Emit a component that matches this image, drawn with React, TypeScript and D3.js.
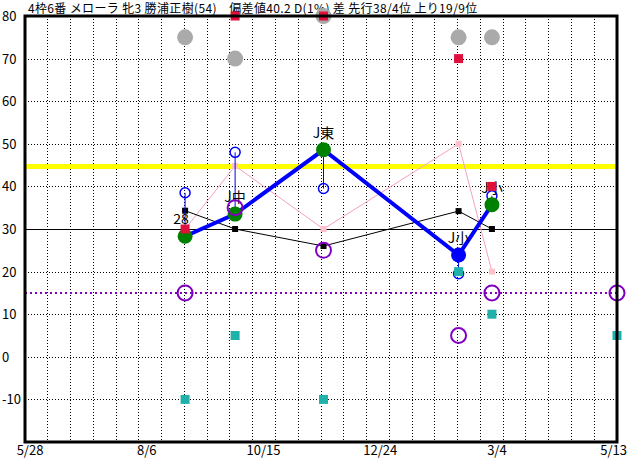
import React, { useEffect, useRef } from "react";
import * as d3 from "d3";

const W = 632;
const H = 460;

const titleText = "4枠6番 メローラ 牝3 勝浦正樹(54)　偏差値40.2 D(1%) 差 先行38/4位 上り19/9位";

const xDomain = ["2018-05-25", "2019-05-15"];
const tickDates = ["2018-05-28", "2018-08-06", "2018-10-15", "2018-12-24", "2019-03-04", "2019-05-13"];
const yTicks = [-10, 0, 10, 20, 30, 40, 50, 60, 70, 80];

const raceDates = ["2018-08-29", "2018-09-28", "2018-11-20", "2019-02-09", "2019-03-01"];
const raceLabels = ["28", "J中", "J東", "J小", "J小"];
const mainValues = [28.3, 33.5, 48.6, 23.9, 35.7];
const highlight = [false, false, false, true, false];
const openCircleValues = [38.5, 48, 39.5, 19.5, 37.8];
const blackValues = [34.3, 30, 26, 34.2, 30];
const pinkValues = [30, 44.8, 30, 50, 20];
const redValues = [30, 80, 80, 70, 40];
const greyValues = [75, 70, 80, 75, 75];

const extraDates = ["2018-08-29", "2018-09-28", "2018-11-20", "2019-02-09", "2019-03-01", "2019-05-15"];
const tealValues = [-10, 5, -10, 20, 10, 5];
const purpleValues = [15, 35, 25, 5, 15, 15];

const yellowLevel = 44.7;
const purpleLevel = 15;
const solidLevel = 30;

export default function App() {
  const ref = useRef<SVGSVGElement>(null);

  useEffect(() => {
    const svg = d3.select(ref.current);
    svg.selectAll("*").remove();
    const parse = d3.timeParse("%Y-%m-%d");
    const fmt = d3.timeFormat("%-m/%-d");
    const L = 25, R = 617, T = 16, B = 442;
    const x = d3.scaleTime().domain(xDomain.map((s) => parse(s)!)).range([L, R]);
    const y = d3.scaleLinear().domain([-20, 80]).range([B, T]);
    const font = "'Noto Sans CJK JP', 'Noto Sans', sans-serif";

    svg.append("rect").attr("width", W).attr("height", H).attr("fill", "#fff");

    // title
    svg.append("text").attr("x", 28).attr("y", 13).attr("font-size", 12)
      .attr("letter-spacing", 0.35)
      .attr("font-family", font).attr("fill", "#000").text(titleText);

    const g = svg.append("g");
    // vertical grid
    const gx = d3.scaleLinear().domain([0, 26]).range([L, R]);
    d3.range(1, 26).forEach((i) => {
      g.append("line").attr("x1", gx(i)).attr("x2", gx(i)).attr("y1", T).attr("y2", B)
        .attr("stroke", "#000").attr("stroke-width", 1).attr("stroke-dasharray", "1,2")
        .attr("shape-rendering", "crispEdges");
    });
    // horizontal grid
    yTicks.forEach((v) => {
      if (v === 80) return;
      g.append("line").attr("x1", L).attr("x2", R).attr("y1", Math.round(y(v)) + 0.5).attr("y2", Math.round(y(v)) + 0.5)
        .attr("stroke", "#000").attr("stroke-width", 1)
        .attr("stroke-dasharray", v === solidLevel ? null : "1,2")
        .attr("shape-rendering", "crispEdges");
    });
    // y labels
    yTicks.forEach((v) => {
      svg.append("text").attr("x", 2).attr("y", y(v) + 5).attr("font-size", 13)
        .attr("font-family", font).attr("fill", "#000").text(String(v));
    });
    // x labels
    tickDates.forEach((s) => {
      const d = parse(s)!;
      svg.append("text").attr("x", x(d)).attr("y", 455).attr("text-anchor", "middle")
        .attr("font-size", 13).attr("font-family", font).attr("fill", "#000").text(fmt(d));
    });

    // yellow line
    g.append("line").attr("x1", L).attr("x2", R).attr("y1", y(yellowLevel)).attr("y2", y(yellowLevel))
      .attr("stroke", "#ffff00").attr("stroke-width", 5);
    // purple dotted
    g.append("line").attr("x1", L).attr("x2", R).attr("y1", y(purpleLevel)).attr("y2", y(purpleLevel))
      .attr("stroke", "#8000c0").attr("stroke-width", 2).attr("stroke-dasharray", "2,3");

    const rd = raceDates.map((s) => parse(s)!);
    const ed = extraDates.map((s) => parse(s)!);
    const line = d3.line<[Date, number]>().x((d) => x(d[0])).y((d) => y(d[1]));

    // pink
    const pinkData = rd.map((d, i) => [d, pinkValues[i]] as [Date, number]);
    g.append("path").attr("d", line(pinkData)!).attr("fill", "none").attr("stroke", "#f5a0c0").attr("stroke-width", 1);
    pinkData.forEach((p) => g.append("rect").attr("x", x(p[0]) - 3).attr("y", y(p[1]) - 3).attr("width", 6).attr("height", 6).attr("fill", "#ffc0cb"));

    // black
    const blackData = rd.map((d, i) => [d, blackValues[i]] as [Date, number]);
    g.append("path").attr("d", line(blackData)!).attr("fill", "none").attr("stroke", "#000").attr("stroke-width", 1);
    blackData.forEach((p) => g.append("rect").attr("x", x(p[0]) - 3).attr("y", y(p[1]) - 3).attr("width", 6).attr("height", 6).attr("fill", "#000"));

    // blue connectors and open circles
    rd.forEach((d, i) => {
      g.append("line").attr("x1", x(d)).attr("x2", x(d)).attr("y1", y(openCircleValues[i])).attr("y2", y(mainValues[i]))
        .attr("stroke", "#0000ff").attr("stroke-width", 1);
      g.append("circle").attr("cx", x(d)).attr("cy", y(openCircleValues[i])).attr("r", 5)
        .attr("fill", "none").attr("stroke", "#0000ff").attr("stroke-width", 1.5);
    });

    // main blue line
    const mainData = rd.map((d, i) => [d, mainValues[i]] as [Date, number]);
    g.append("path").attr("d", line(mainData)!).attr("fill", "none").attr("stroke", "#0000ff").attr("stroke-width", 4);
    mainData.forEach((p, i) => {
      g.append("circle").attr("cx", x(p[0])).attr("cy", y(p[1])).attr("r", 7.5)
        .attr("fill", highlight[i] ? "#0000ff" : "#008000");
    });

    // grey circles
    rd.forEach((d, i) => {
      g.append("circle").attr("cx", x(d)).attr("cy", y(greyValues[i])).attr("r", 8).attr("fill", "#aaaaaa");
    });

    // labels
    rd.forEach((d, i) => {
      g.append("text").attr("x", x(d) - (i === 0 ? 4 : 0)).attr("y", y(mainValues[i]) - 12).attr("text-anchor", "middle")
        .attr("font-size", 14).attr("font-family", font).attr("fill", "#000").text(raceLabels[i]);
    });

    // red squares
    rd.forEach((d, i) => {
      g.append("rect").attr("x", x(d) - 4.5).attr("y", y(redValues[i]) - 4.5).attr("width", 9).attr("height", 9).attr("fill", "#e0103c");
    });

    // teal squares
    ed.forEach((d, i) => {
      g.append("rect").attr("x", x(d) - 4.5).attr("y", y(tealValues[i]) - 4.5).attr("width", 9).attr("height", 9).attr("fill", "#20b2aa");
    });

    // purple circles
    ed.forEach((d, i) => {
      g.append("circle").attr("cx", x(d)).attr("cy", y(purpleValues[i])).attr("r", 7.5)
        .attr("fill", "none").attr("stroke", "#8000c0").attr("stroke-width", 2);
    });

    // border
    svg.append("rect").attr("x", L).attr("y", T).attr("width", R - L).attr("height", B - T)
      .attr("fill", "none").attr("stroke", "#000").attr("stroke-width", 3);
  }, []);

  return (
    <svg ref={ref} width={W} height={H}
      style={{ position: "absolute", left: 0, top: 0, display: "block" }} />
  );
}
